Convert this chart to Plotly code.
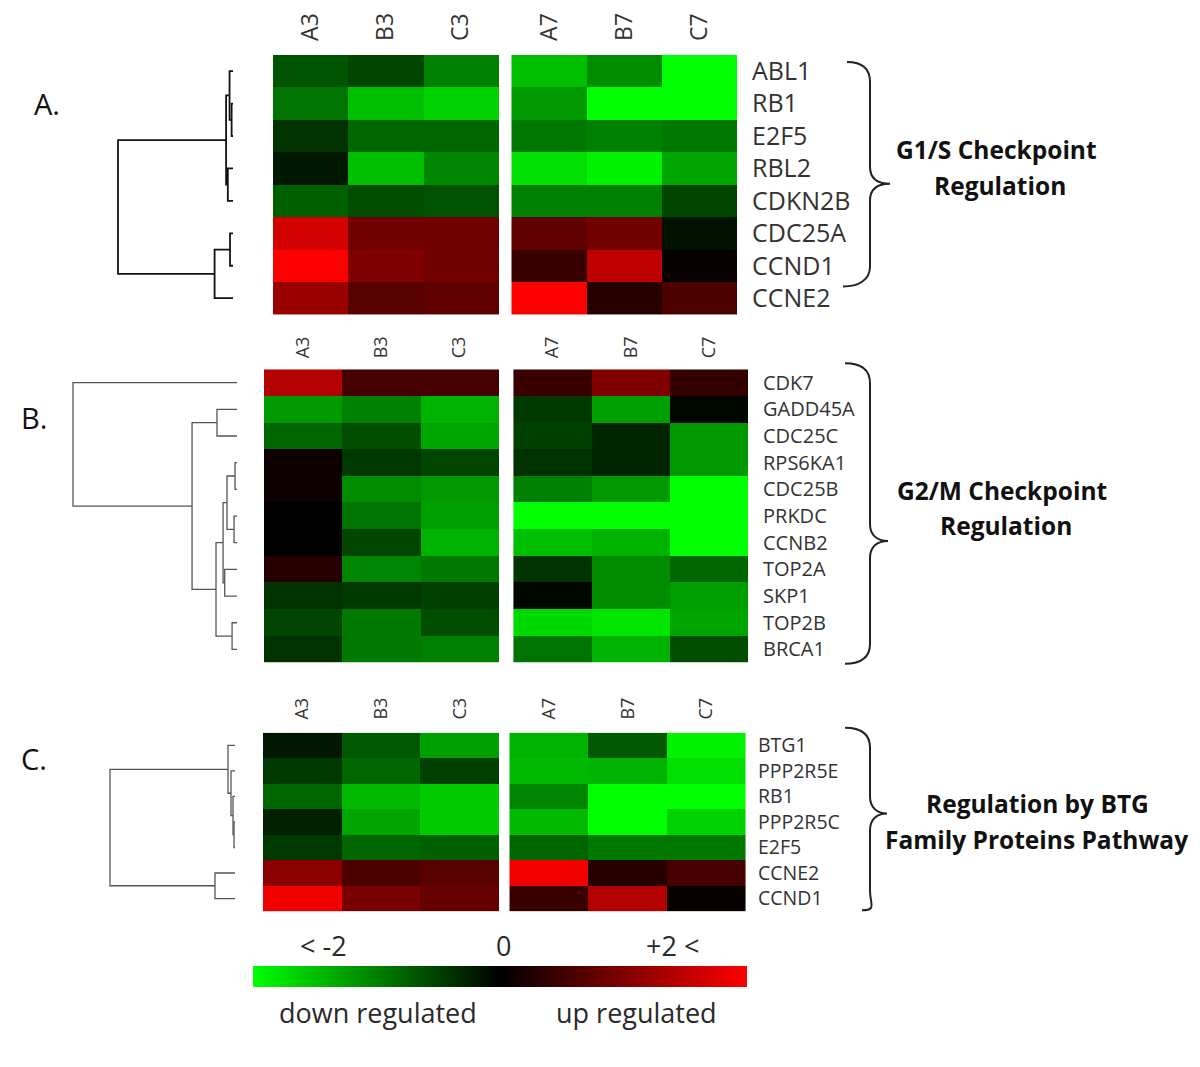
import plotly.graph_objects as go

W, H = 1200, 1067

samples = ["A3", "B3", "C3", "A7", "B7", "C7"]

genes_A = ["ABL1", "RB1", "E2F5", "RBL2", "CDKN2B", "CDC25A", "CCND1", "CCNE2"]
expr_A = [
    [-0.65, -0.55, -1.00, -1.50, -1.10, -2.00],
    [-0.90, -1.50, -1.65, -1.20, -2.00, -2.00],
    [-0.40, -0.80, -0.80, -0.95, -1.00, -0.95],
    [-0.20, -1.50, -1.05, -1.75, -1.90, -1.30],
    [-0.75, -0.60, -0.65, -1.00, -1.00, -0.55],
    [1.65, 0.90, 0.90, 0.75, 0.90, -0.15],
    [2.00, 1.00, 0.90, 0.45, 1.50, 0.05],
    [1.20, 0.70, 0.75, 2.00, 0.30, 0.60],
]
link_A = [(1, 2, 0.012), (0, 8, 0.03), (3, 4, 0.045), (9, 10, 0.06),
          (5, 6, 0.026), (12, 7, 0.16), (11, 13, 1.0)]

genes_B = ["CDK7", "GADD45A", "CDC25C", "RPS6KA1", "CDC25B", "PRKDC",
           "CCNB2", "TOP2A", "SKP1", "TOP2B", "BRCA1"]
expr_B = [
    [1.40, 0.55, 0.55, 0.45, 1.00, 0.40],
    [-1.20, -1.00, -1.40, -0.45, -1.25, -0.05],
    [-0.80, -0.60, -1.30, -0.50, -0.30, -1.20],
    [0.10, -0.45, -0.55, -0.40, -0.30, -1.20],
    [0.10, -1.10, -1.20, -1.00, -1.20, -2.00],
    [0.00, -0.90, -1.25, -2.00, -2.00, -2.00],
    [0.00, -0.55, -1.40, -1.50, -1.40, -2.00],
    [0.30, -1.05, -0.95, -0.40, -1.10, -0.80],
    [-0.40, -0.45, -0.50, -0.05, -1.10, -1.25],
    [-0.55, -0.95, -0.60, -1.70, -1.80, -1.30],
    [-0.40, -0.95, -1.00, -0.90, -1.40, -0.60],
]
link_B = [(3, 4, 0.012), (5, 6, 0.018), (11, 12, 0.061), (7, 8, 0.075),
          (13, 14, 0.085), (9, 10, 0.03), (15, 16, 0.128), (1, 2, 0.122),
          (18, 17, 0.274), (0, 19, 1.0)]

genes_C = ["BTG1", "PPP2R5E", "RB1", "PPP2R5C", "E2F5", "CCNE2", "CCND1"]
expr_C = [
    [-0.20, -0.70, -1.25, -1.40, -0.70, -1.90],
    [-0.45, -0.80, -0.50, -1.45, -1.40, -1.75],
    [-0.80, -1.45, -1.60, -1.05, -2.00, -2.00],
    [-0.25, -1.30, -1.60, -1.45, -2.00, -1.65],
    [-0.45, -0.80, -0.75, -0.80, -0.95, -0.95],
    [1.10, 0.60, 0.70, 1.90, 0.30, 0.55],
    [1.90, 0.95, 0.80, 0.45, 1.40, 0.05],
]
link_C = [(3, 4, 0.008), (2, 7, 0.016), (1, 8, 0.032), (0, 9, 0.056),
          (5, 6, 0.16), (10, 11, 1.0)]

group_labels = [["G1/S Checkpoint", "Regulation"],
                ["G2/M Checkpoint", "Regulation"],
                ["Regulation by BTG", "Family Proteins Pathway"]]
panel_letters = ["A.", "B.", "C."]
scale_labels = ["< -2", "0", "+2 <"]
scale_words = ["down regulated", "up regulated"]

colorscale = [[0.0, "#00ff00"], [0.5, "#000000"], [1.0, "#ff0000"]]


def px(x):
    return x / W


def py(y):
    return 1 - y / H


FONT = "Open Sans"
TXT = "#2a2a2a"

# layout geometry (pixels)
panels = [
    dict(genes=genes_A, expr=expr_A, link=link_A, hx=(273, 737), hy=(53, 313), gap=0.173,
         dx=(118, 233), lw=1.8, lc="#111", colfont=23, genefont=25, colstand=13, genestand=14),
    dict(genes=genes_B, expr=expr_B, link=link_B, hx=(264, 748), hy=(368, 662), gap=0.19,
         dx=(73, 237), lw=1.3, lc="#555", colfont=18, genefont=20, colstand=10, genestand=14),
    dict(genes=genes_C, expr=expr_C, link=link_C, hx=(263, 746), hy=(732, 911), gap=0.127,
         dx=(110, 235), lw=1.3, lc="#555", colfont=18, genefont=19.5, colstand=12, genestand=11),
]

fig = go.Figure()
layout = dict(width=W, height=H, margin=dict(l=0, r=0, t=0, b=0),
              paper_bgcolor="white", plot_bgcolor="white", showlegend=False)

ax = 1
for pi, p in enumerate(panels):
    n = len(p["genes"])
    g = p["gap"]
    xs_left = [0, 1, 2]
    xs_right = [3 + g, 4 + g, 5 + g]
    xname = "x" if ax == 1 else f"x{ax}"
    yname = "y" if ax == 1 else f"y{ax}"
    left_z = [row[:3] for row in p["expr"]]
    right_z = [row[3:] for row in p["expr"]]
    for xs, z, show in ((xs_left, left_z, pi == 0), (xs_right, right_z, False)):
        tr = go.Heatmap(x=xs, y=p["genes"], z=z, colorscale=colorscale, zmin=-2, zmax=2,
                        xaxis=xname, yaxis=yname, showscale=show, hoverinfo="skip")
        if show:
            tr.colorbar = dict(orientation="h", x=px(500), xanchor="center",
                               y=py(987), yanchor="bottom", thickness=21,
                               len=494, lenmode="pixels", showticklabels=False,
                               ticks="", outlinewidth=0, xpad=0, ypad=0)
        fig.add_trace(tr)
    layout["xaxis" if ax == 1 else f"xaxis{ax}"] = dict(
        domain=[px(p["hx"][0]), px(p["hx"][1])], range=[-0.5, 5.5 + g],
        anchor=yname, side="top", tickangle=-90,
        tickvals=xs_left + xs_right, ticktext=samples, ticks="",
        ticklabelstandoff=p["colstand"],
        tickfont=dict(family=FONT, size=p["colfont"], color="#333"),
        showgrid=False, zeroline=False, showline=False)
    layout["yaxis" if ax == 1 else f"yaxis{ax}"] = dict(
        domain=[py(p["hy"][1]), py(p["hy"][0])], range=[n - 0.5, -0.5],
        anchor=xname, side="right", type="category", ticks="",
        ticklabelstandoff=p["genestand"],
        tickfont=dict(family=FONT, size=p["genefont"], color="#333"),
        showgrid=False, zeroline=False, showline=False)
    ax += 1

    # dendrogram
    pos = {i: (float(i), 0.0) for i in range(n)}
    lx, ly = [], []
    for k, (a, b, h) in enumerate(p["link"]):
        ya, ha = pos[a]
        yb, hb = pos[b]
        lx += [ha, h, h, hb, None]
        ly += [ya, ya, yb, yb, None]
        pos[n + k] = ((ya + yb) / 2, h)
    dxn = f"x{ax}"
    dyn = f"y{ax}"
    fig.add_trace(go.Scatter(x=lx, y=ly, mode="lines", xaxis=dxn, yaxis=dyn,
                             line=dict(color=p["lc"], width=p["lw"]), hoverinfo="skip"))
    e = 0.02
    root, leaf = p["dx"]
    sc = (leaf - root)
    layout[f"xaxis{ax}"] = dict(domain=[px(root - e * sc), px(leaf + e * sc)],
                                range=[1 + e, -e], anchor=dyn, visible=False)
    layout[f"yaxis{ax}"] = dict(domain=[py(p["hy"][1]), py(p["hy"][0])],
                                range=[n - 0.5, -0.5], anchor=dxn, visible=False)
    ax += 1

fig.update_layout(**layout)


# braces
def brace(x0, ytop, xv, ytip, xtip, ybot, x1):
    pts = [
        ("M", [(x0, ytop)]),
        ("C", [(x0 + 15, ytop), (xv, ytop + 6), (xv, ytop + 20)]),
        ("L", [(xv, ytip - 17)]),
        ("C", [(xv, ytip - 6), (xv + 7, ytip), (xtip, ytip)]),
        ("C", [(xv + 7, ytip), (xv, ytip + 6), (xv, ytip + 17)]),
        ("L", [(xv, ybot - 20)]),
        ("C", [(xv, ybot - 6), (x1 + 15, ybot), (x1, ybot)]),
    ]
    s = ""
    for cmd, cs in pts:
        s += cmd + " " + ", ".join(f"{px(a):.5f},{py(b):.5f}" for a, b in cs) + " "
    return s


braces = [(847, 60, 870, 182, 890, 285, 843),
          (845, 362, 870, 540, 888, 663, 845),
          (845, 727, 870, 813, 887, 910, 862)]
for b in braces:
    fig.add_shape(type="path", path=brace(*b), xref="paper", yref="paper",
                  line=dict(color="#222", width=2))

# group labels
glpos = [[(996, 148), (1000, 184)], [(1002, 489), (1006, 524)], [(1037, 803), (1036, 839)]]
for lines, poss in zip(group_labels, glpos):
    for t, (x, y) in zip(lines, poss):
        fig.add_annotation(text=f"<b>{t}</b>", x=px(x), y=py(y), xref="paper", yref="paper",
                           showarrow=False, xanchor="center", yanchor="middle",
                           font=dict(family=FONT, size=24.5, color="#111"))

for t, (x, y) in zip(panel_letters, [(47, 102), (34, 416), (34, 758)]):
    fig.add_annotation(text=t, x=px(x), y=py(y), xref="paper", yref="paper",
                       showarrow=False, xanchor="center", yanchor="middle",
                       font=dict(family=FONT, size=29, color="#111"))

for t, x in zip(scale_labels, [323, 503, 672]):
    fig.add_annotation(text=t, x=px(x), y=py(945), xref="paper", yref="paper",
                       showarrow=False, xanchor="center", yanchor="middle",
                       font=dict(family=FONT, size=27, color=TXT))
for t, x in zip(scale_words, [378, 636]):
    fig.add_annotation(text=t, x=px(x), y=py(1012), xref="paper", yref="paper",
                       showarrow=False, xanchor="center", yanchor="middle",
                       font=dict(family=FONT, size=27, color=TXT))

fig.write_html("out.html", config={"displayModeBar": False},
               post_script="document.body.style.margin='0';")
